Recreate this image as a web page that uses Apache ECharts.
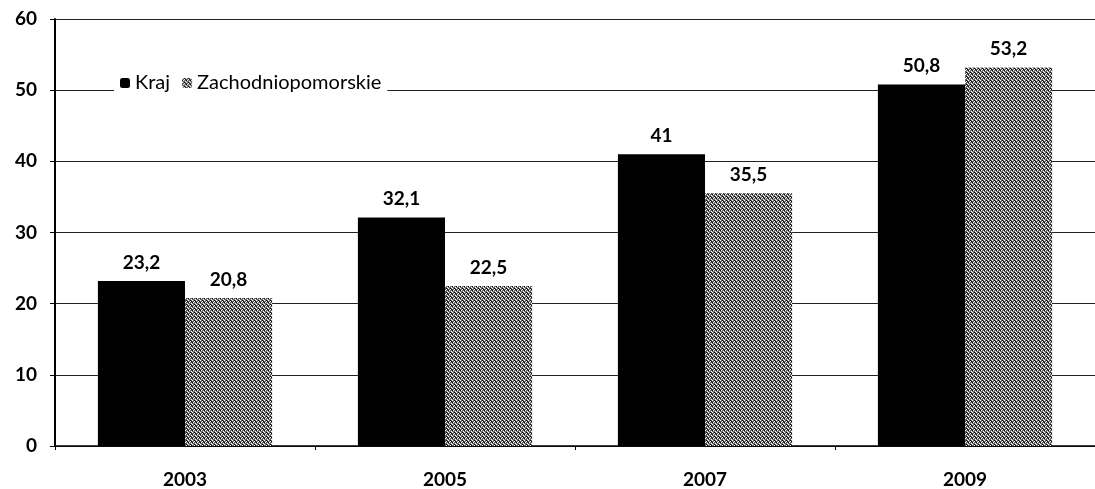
<!DOCTYPE html>
<html>
<head>
<meta charset="utf-8">
<script src="https://cdn.jsdelivr.net/npm/echarts@6/dist/echarts.min.js"></script>
<style>
  html, body { margin: 0; padding: 0; background: #fff; }
  #chart { width: 1095px; height: 489px; }
</style>
</head>
<body>
<div id="chart"></div>
<script>
  var years = ['2003', '2005', '2007', '2009']
  var kraj = [23.2, 32.1, 41, 50.8]
  var zachodniopomorskie = [20.8, 22.5, 35.5, 53.2]
  var seriesNames = ['Kraj', 'Zachodniopomorskie']

  // dotted grey texture for the second series
  function makePattern() {
    var c = document.createElement('canvas')
    c.width = 4
    c.height = 4
    var ctx = c.getContext('2d')
    ctx.fillStyle = '#6a6a6a'
    ctx.fillRect(0, 0, 4, 4)
    ctx.fillStyle = '#ffffff'
    ctx.fillRect(0, 0, 1, 1)
    ctx.fillRect(2, 1, 1, 1)
    ctx.fillRect(1, 2, 1, 1)
    ctx.fillRect(3, 3, 1, 1)
    ctx.fillStyle = '#000000'
    ctx.fillRect(2, 0, 1, 1)
    ctx.fillRect(0, 2, 1, 1)
    ctx.fillRect(3, 1, 1, 1)
    return c
  }

  var font = 'Lato, "Open Sans", sans-serif'
  var chart = echarts.init(document.getElementById('chart'))
  var pattern = { image: makePattern(), repeat: 'repeat' }

  function label() {
    return {
      show: true,
      position: 'top',
      distance: 9,
      color: '#000',
      fontWeight: 'bold',
      fontSize: 19,
      fontFamily: font,
      formatter: function (p) {
        return String(p.value).replace('.', ',')
      }
    }
  }

  chart.setOption({
    animation: false,
    backgroundColor: '#fff',
    grid: { left: 55, right: 0, top: 19, bottom: 42 },
    legend: {
      left: 114,
      top: 73,
      itemWidth: 10,
      itemHeight: 10,
      itemGap: 12,
      padding: [0, 6],
      backgroundColor: '#fff',
      textStyle: { color: '#000', fontSize: 20, fontFamily: font },
      data: seriesNames
    },
    xAxis: {
      type: 'category',
      data: years,
      axisLine: { lineStyle: { color: '#000', width: 1.5 } },
      axisTick: { show: true, alignWithLabel: false, length: 4, lineStyle: { color: '#000' } },
      axisLabel: { color: '#000', fontWeight: 'bold', fontSize: 19, fontFamily: font, margin: 24 }
    },
    yAxis: {
      type: 'value',
      min: 0,
      max: 60,
      interval: 10,
      axisLine: { show: true, lineStyle: { color: '#000', width: 2 } },
      axisTick: { show: true, length: 5, lineStyle: { color: '#000' } },
      axisLabel: { color: '#000', fontWeight: 'bold', fontSize: 19, fontFamily: font, margin: 18 },
      splitLine: { lineStyle: { color: '#222', width: 1 } }
    },
    series: [
      {
        name: seriesNames[0],
        type: 'bar',
        data: kraj,
        barGap: '0%',
        barCategoryGap: '33%',
        itemStyle: { color: '#000' },
        label: label()
      },
      {
        name: seriesNames[1],
        type: 'bar',
        data: zachodniopomorskie,
        itemStyle: { color: pattern },
        label: label()
      }
    ]
  })
</script>
</body>
</html>
